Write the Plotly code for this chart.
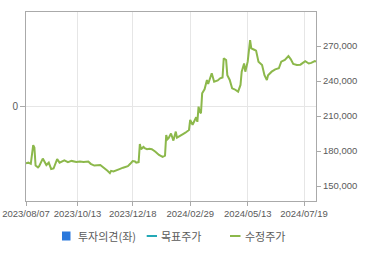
import plotly.graph_objects as go

# trading-day index (0 = 2023/08/07) and adjusted close price (KRW)
day_idx = [0, 2, 4, 6, 7, 8, 10, 11, 14, 16, 17, 19, 21, 23, 24, 26, 28, 30, 32, 35,
           38, 42, 45, 48, 52, 54, 57, 62, 64, 66, 68, 70, 71, 73, 76, 78, 81, 83, 85, 87,
           89, 91, 92, 94, 95, 96, 98, 99, 101, 103, 105, 108, 111, 114, 116, 117, 118, 119, 121, 123,
           125, 126, 129, 131, 133, 136, 137, 139, 142, 143, 144, 145, 146, 147, 149, 151, 152, 153, 155, 157,
           160, 162, 164, 165, 167, 168, 170, 172, 174, 177, 179, 180, 182, 183, 185, 187, 188, 190, 192, 194,
           197, 199, 201, 202, 205, 208, 211, 213, 216, 219, 221, 223, 226, 229, 231, 233, 236, 238, 241, 242]
price = [169500, 170000, 169000, 185000, 183000, 167500, 166000, 167000, 173500, 170000,
         168000, 170000, 164500, 165000, 168000, 173000, 170000, 171000, 172000, 170500,
         171500, 170500, 171000, 170500, 171000, 169000, 167500, 168000, 166500, 165000,
         163000, 161000, 163000, 162500, 164000, 164500, 165700, 166500, 167000, 169000,
         171400, 171000, 170000, 170500, 186000, 181500, 183500, 182500, 181500, 182000,
         181500, 179400, 176600, 175000, 176000, 193700, 190000, 191000, 195000, 188900,
         196600, 191400, 193700, 194500, 195700, 198000, 206600, 202500, 208900, 205000,
         218000, 213700, 212300, 229400, 232900, 240900, 237400, 240000, 246600, 239400,
         240500, 242300, 243000, 259400, 258000, 245000, 240900, 233700, 232900, 230900,
         236600, 248000, 255000, 248000, 256600, 275000, 268000, 267000, 266000, 256600,
         253700, 245000, 240900, 245000, 248000, 250000, 250900, 256600, 258000, 261400,
         258600, 254600, 253700, 254000, 255700, 257000, 255000, 255500, 257000, 256600]

tick_idx = [0, 43, 89, 137, 185, 232]
tick_labels = ["2023/08/07", "2023/10/13", "2023/12/18", "2024/02/29", "2024/05/13", "2024/07/19"]
price_ticks = [150000, 180000, 210000, 240000, 270000]
price_tick_labels = ["150,000", "180,000", "210,000", "240,000", "270,000"]
legend_names = ["투자의견(좌)", "목표주가", "수정주가"]

GREEN = "#8cb84b"
BLUE = "#2b78dc"
TEAL = "#23a9b6"
FRAME = "#aaaaaa"
GRID = "#e6e6e6"
TXT = "#5a5a5a"
FONT = "Liberation Sans, Arial, sans-serif"

fig = go.Figure()
# opinion series (left axis) has no values in this period
fig.add_trace(go.Scatter(x=[None], y=[None], yaxis="y", mode="lines",
                         showlegend=False, name=legend_names[0], hoverinfo="skip"))
fig.add_trace(go.Scatter(x=day_idx, y=price, mode="lines", yaxis="y2",
                         line=dict(color=GREEN, width=2), showlegend=False,
                         name=legend_names[2]))

fig.update_layout(
    width=370, height=255,
    margin=dict(l=26, r=54, t=12, b=54, autoexpand=False),
    paper_bgcolor="white", plot_bgcolor="white",
    font=dict(family=FONT, size=10, color=TXT),
    showlegend=False,
    xaxis=dict(range=[0, 242], tickvals=tick_idx, ticktext=tick_labels,
               showgrid=True, gridcolor=GRID, gridwidth=1, automargin=False,
               showline=True, linecolor=FRAME, linewidth=1, mirror=True,
               ticks="outside", ticklen=4, tickcolor=FRAME,
               tickfont=dict(size=9.5, color=TXT), zeroline=False),
    yaxis=dict(range=[-1, 1], tickvals=[0], ticktext=["0"], automargin=False,
               showgrid=True, gridcolor=GRID, zeroline=False,
               showline=True, linecolor=FRAME, linewidth=1, mirror=True,
               ticks="outside", ticklen=5, tickcolor=FRAME,
               tickfont=dict(size=10, color=TXT)),
    yaxis2=dict(range=[137140, 299140], overlaying="y", side="right",
                tickvals=price_ticks, ticktext=price_tick_labels, automargin=False,
                showgrid=False, zeroline=False,
                showline=True, linecolor=FRAME, linewidth=1,
                ticks="outside", ticklen=4, tickcolor=FRAME,
                tickfont=dict(size=9.5, color=TXT)),
)

# manual legend (paper coords: x=(px-26)/290, y=(201-py)/189)
ly = (201 - 236) / 189
fig.add_shape(type="rect", xref="paper", yref="paper",
              x0=(62 - 26) / 290, x1=(70.5 - 26) / 290,
              y0=(201 - 240.5) / 189, y1=(201 - 231.5) / 189,
              fillcolor=BLUE, line=dict(width=0))
fig.add_shape(type="line", xref="paper", yref="paper",
              x0=(146.7 - 26) / 290, x1=(157 - 26) / 290, y0=ly, y1=ly,
              line=dict(color=TEAL, width=2))
fig.add_shape(type="line", xref="paper", yref="paper",
              x0=(230 - 26) / 290, x1=(240.5 - 26) / 290, y0=ly, y1=ly,
              line=dict(color=GREEN, width=2))
for px, name in zip([75.5, 159, 243], legend_names):
    fig.add_annotation(x=(px - 26) / 290, y=ly, xref="paper", yref="paper",
                       text=name, showarrow=False, xanchor="left", yanchor="middle",
                       font=dict(family="Noto Sans CJK KR", size=11, color=TXT))

fig.write_html("out.html")
